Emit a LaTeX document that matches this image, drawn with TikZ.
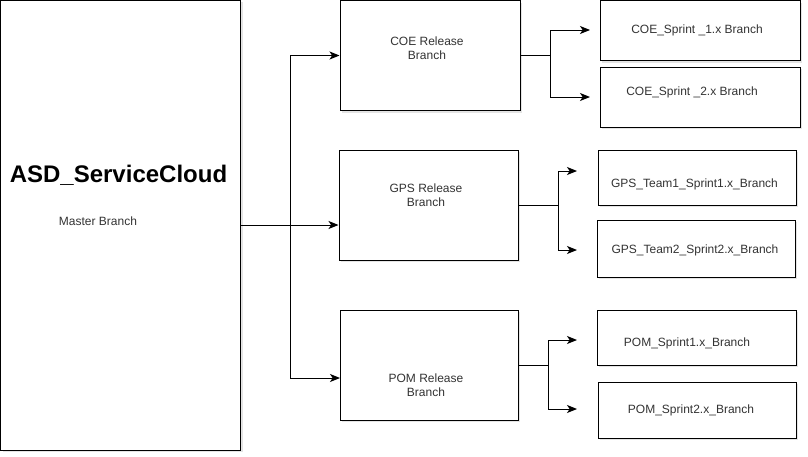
\documentclass[tikz,border=0pt]{standalone}
\usepackage{fontspec}
\setmainfont{Liberation Sans}
\usetikzlibrary{arrows.meta,shadows}
\definecolor{txt}{HTML}{333333}
\begin{document}
\begin{tikzpicture}[x=0.75pt,y=-0.75pt,
  box/.style={draw=black,line width=0.75pt,fill=white,inner sep=0pt,
    drop shadow={shadow xshift=1.5pt,shadow yshift=-1.5pt,fill=gray!60,opacity=0.35}},
  lbl/.style={text=txt,font=\fontsize{9}{10.5}\selectfont,align=center,inner sep=0pt},
  conn/.style={line width=0.75pt,draw=black},
  arr/.style={conn,-{Stealth[length=7.5pt,width=6pt,inset=2pt]}}]
\useasboundingbox (0,0) rectangle (808,457);
% boxes
\node[box,minimum width=180pt,minimum height=337.5pt] (main) at (120.5,225) {};
\node[box,minimum width=135pt,minimum height=82.5pt] (coe) at (430,55.5) {};
\node[box,minimum width=134.25pt,minimum height=82.5pt] (gps) at (428.5,205) {};
\node[box,minimum width=133.5pt,minimum height=82.5pt] (pom) at (429,365) {};
\node[box,minimum width=150pt,minimum height=45pt] (coe1) at (700,30.5) {};
\node[box,minimum width=150pt,minimum height=45pt] (coe2) at (700,97) {};
\node[box,minimum width=148.5pt,minimum height=41.25pt] (gps1) at (697,177.5) {};
\node[box,minimum width=148.5pt,minimum height=42.75pt] (gps2) at (696,248.5) {};
\node[box,minimum width=149.25pt,minimum height=41.25pt] (pom1) at (696.5,337.5) {};
\node[box,minimum width=148.5pt,minimum height=42pt] (pom2) at (697,410) {};
% texts
\node[inner sep=0pt,font=\bfseries\fontsize{18}{21}\selectfont] (title) at (118.5,175) {ASD\_ServiceCloud};
\node[lbl] (master) at (98,221) {Master Branch};
\node[lbl] (coet) at (427,48) {COE Release\\Branch};
\node[lbl] (gpst) at (426,195.5) {GPS Release\\Branch};
\node[lbl] (pomt) at (426,385.5) {POM Release\\Branch};
\node[lbl] (coe1t) at (697,30) {COE\_Sprint \_1.x Branch};
\node[lbl] (coe2t) at (692,92.5) {COE\_Sprint \_2.x Branch};
\node[lbl] (gps1t) at (694.5,184) {GPS\_Team1\_Sprint1.x\_Branch};
\node[lbl] (gps2t) at (695,250) {GPS\_Team2\_Sprint2.x\_Branch};
\node[lbl] (pom1t) at (687,343) {POM\_Sprint1.x\_Branch};
\node[lbl] (pom2t) at (691,410.5) {POM\_Sprint2.x\_Branch};
% junction coordinates
\coordinate (j0) at (290,225);
\coordinate (pomin) at (340,378);
\coordinate (jc) at (550,55.5);
\coordinate (c1) at (590,30);
\coordinate (c2) at (590,97);
\coordinate (jg) at (558,205);
\coordinate (g1) at (577,171);
\coordinate (g2) at (577,250);
\coordinate (jp) at (548,365);
\coordinate (p1) at (577,340);
\coordinate (p2) at (577,409);
% connectors
\draw[conn] (main.east |- j0) -- (j0);
\draw[arr] (j0) |- (coe.west);
\draw[arr] (j0) -- (gps.west |- j0);
\draw[arr] (j0) |- (pomin);
\draw[conn] (coe.east) -- (jc);
\draw[arr] (jc) |- (c1);
\draw[arr] (jc) |- (c2);
\draw[conn] (gps.east) -- (jg);
\draw[arr] (jg) |- (g1);
\draw[arr] (jg) |- (g2);
\draw[conn] (pom.east) -- (jp);
\draw[arr] (jp) |- (p1);
\draw[arr] (jp) |- (p2);
\end{tikzpicture}
\end{document}
